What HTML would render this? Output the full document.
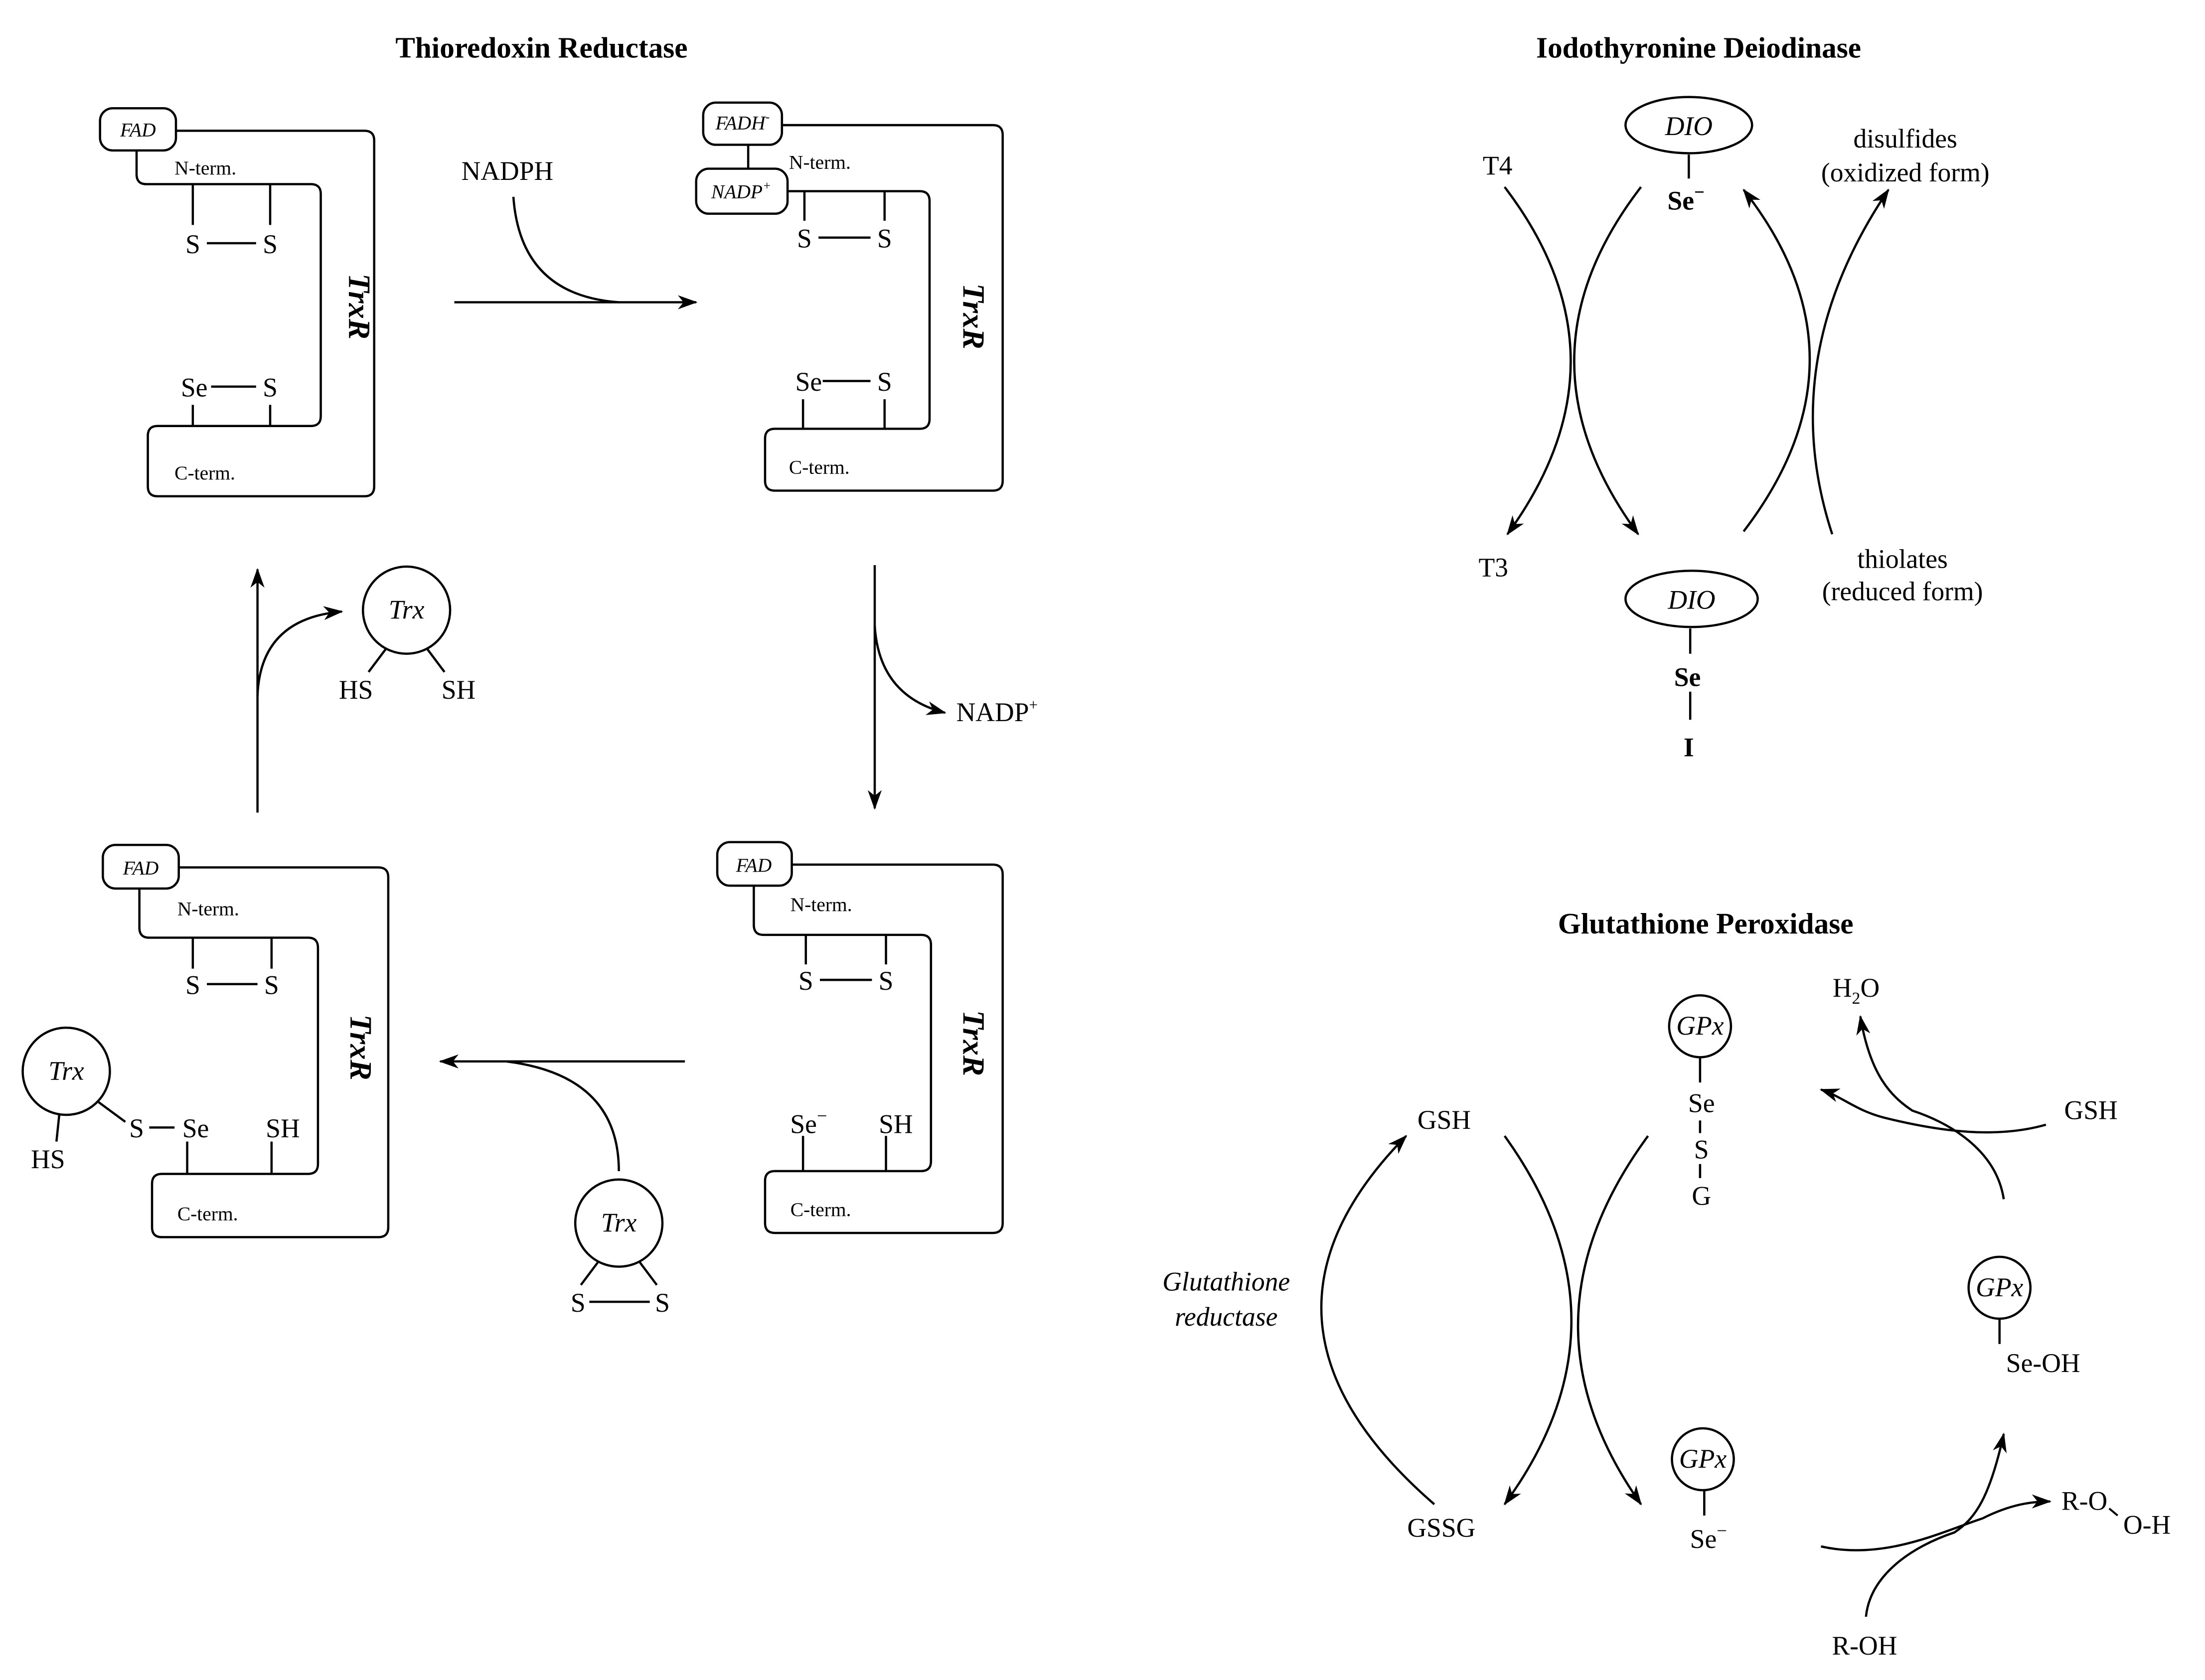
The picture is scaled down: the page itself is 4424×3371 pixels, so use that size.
<!DOCTYPE html>
<html><head><meta charset="utf-8"><style>
html,body{margin:0;padding:0;background:#fff;}
svg{display:block;}
text{font-family:"Liberation Serif","Times New Roman","DejaVu Serif",serif;fill:#000;}
.s{font-size:19px;}
.sm{font-size:14px;}
.it{font-style:italic;}
.b{font-weight:bold;}
.t{font-size:21px;font-weight:bold;}
.tr{font-size:22px;font-weight:bold;font-style:italic;}
</style></head><body>
<svg width="4424" height="3371" viewBox="0 0 1568 1195" xmlns="http://www.w3.org/2000/svg" font-family="Liberation Serif, Times New Roman, serif">
<defs>
<marker id="a" viewBox="0 0 14 10" refX="13" refY="5" markerWidth="14" markerHeight="10" markerUnits="userSpaceOnUse" orient="auto">
<path d="M0,0 L14,5 L0,10 L4,5 Z" fill="#000"/>
</marker>
</defs>
<g fill="none" stroke="#000" stroke-width="1.6">
<rect x="71" y="77" width="54" height="30" rx="9"/>
<path d="M97,107 V124 Q97,131 104,131 H221 Q228,131 228,138 V296 Q228,303 221,303 H112 Q105,303 105,310 V346 Q105,353 112,353 H259 Q266,353 266,346 V100 Q266,93 259,93 H125"/>
<path d="M137,131 V160 M192,131 V160 M147,173 H182 M150,275 H182 M137,288 V303 M192,288 V303"/>
<rect x="500" y="73" width="56" height="30" rx="9"/>
<rect x="495" y="120" width="65" height="32" rx="9"/>
<path d="M532,103 V120"/>
<path d="M560,136 H654 Q661,136 661,143 V298 Q661,305 654,305 H551 Q544,305 544,312 V342 Q544,349 551,349 H706 Q713,349 713,342 V96 Q713,89 706,89 H556"/>
<path d="M572,136 V157 M629,136 V157 M582,169 H619 M585,271 H619 M571,284 V305 M629,284 V305"/>
<rect x="510" y="599" width="53" height="31" rx="9"/>
<path d="M536,630 V658 Q536,665 543,665 H655 Q662,665 662,672 V826 Q662,833 655,833 H551 Q544,833 544,840 V870 Q544,877 551,877 H706 Q713,877 713,870 V622 Q713,615 706,615 H563"/>
<path d="M573,665 V686 M630,665 V686 M583,697 H620 M571,808 V833 M630,808 V833"/>
<rect x="73" y="601" width="54" height="31" rx="9"/>
<path d="M99,632 V660 Q99,667 106,667 H219 Q226,667 226,674 V828 Q226,835 219,835 H115 Q108,835 108,842 V873 Q108,880 115,880 H269 Q276,880 276,873 V624 Q276,617 269,617 H127"/>
<path d="M137,667 V689 M193,667 V689 M147,700 H183 M133,812 V835 M193,812 V835 M106,802 H124"/>
<circle cx="47" cy="762" r="31"/>
<path d="M42,793 L40,812 M70,784 L89,798"/>
<path d="M323,215 H495" marker-end="url(#a)"/>
<path d="M365,140 Q370,210 440,215"/>
<path d="M622,402 V575" marker-end="url(#a)"/>
<path d="M622,445 Q625,495 672,507" marker-end="url(#a)"/>
<path d="M487,755 H313" marker-end="url(#a)"/>
<path d="M440,833 Q440,765 360,755"/>
<circle cx="440" cy="870" r="31"/>
<path d="M425,898 L413,914 M455,898 L467,914 M419,926 H462"/>
<path d="M183,578 V405" marker-end="url(#a)"/>
<path d="M183,495 Q185,440 243,435" marker-end="url(#a)"/>
<circle cx="289" cy="434" r="31"/>
<path d="M274,462 L262,478 M304,462 L316,478"/>
<ellipse cx="1201" cy="89" rx="45" ry="20"/>
<path d="M1201,110 V127"/>
<path d="M1070,133 Q1163,255 1072,380" marker-end="url(#a)"/>
<path d="M1167,133 Q1073,255 1165,380" marker-end="url(#a)"/>
<path d="M1240,378 Q1334,255 1240,135" marker-end="url(#a)"/>
<path d="M1303,380 Q1262,255 1343,135" marker-end="url(#a)"/>
<ellipse cx="1203" cy="426" rx="47" ry="20"/>
<path d="M1202,447 V465 M1202,492 V512"/>
<circle cx="1209" cy="730" r="22"/>
<path d="M1209,752 V770 M1209,797 V806 M1209,828 V838"/>
<path d="M1020,1070 Q870,940 1000,808" marker-end="url(#a)"/>
<path d="M1070,808 Q1165,940 1070,1070" marker-end="url(#a)"/>
<path d="M1172,808 Q1075,940 1167,1070" marker-end="url(#a)"/>
<circle cx="1211" cy="1038" r="22"/>
<path d="M1212,1060 V1078"/>
<path d="M1455,800 C1420,810 1380,805 1340,795 C1320,790 1310,780 1295,775" marker-end="url(#a)"/>
<path d="M1425,853 C1420,820 1390,800 1360,790 C1345,780 1330,765 1323,723" marker-end="url(#a)"/>
<circle cx="1422" cy="916" r="22"/>
<path d="M1422,938 V956"/>
<path d="M1295,1100 C1340,1110 1380,1090 1410,1080 C1430,1070 1445,1068 1458,1068" marker-end="url(#a)"/>
<path d="M1327,1150 C1330,1120 1360,1100 1390,1090 C1405,1080 1415,1065 1425,1020" marker-end="url(#a)"/>
</g>
<text class="t" x="385" y="41" text-anchor="middle">Thioredoxin Reductase</text>
<text class="t" x="1208" y="41" text-anchor="middle">Iodothyronine Deiodinase</text>
<text class="t" x="1213" y="664" text-anchor="middle">Glutathione Peroxidase</text>

<text class="sm it" x="98" y="97" text-anchor="middle">FAD</text>
<text class="sm" x="124" y="124">N-term.</text>
<text class="sm" x="124" y="341">C-term.</text>
<text class="s" x="137" y="180" text-anchor="middle">S</text>
<text class="s" x="192" y="180" text-anchor="middle">S</text>
<text class="s" x="138" y="282" text-anchor="middle">Se</text>
<text class="s" x="192" y="282" text-anchor="middle">S</text>
<text class="tr" transform="translate(248,218) rotate(90)" text-anchor="middle">TrxR</text>

<text class="sm it" x="528" y="92" text-anchor="middle">FADH<tspan font-size="9" dy="-6">-</tspan></text>
<text class="sm it" x="527" y="141" text-anchor="middle">NADP<tspan font-size="9" dy="-6">+</tspan></text>
<text class="sm" x="561" y="120">N-term.</text>
<text class="sm" x="561" y="337">C-term.</text>
<text class="s" x="572" y="176" text-anchor="middle">S</text>
<text class="s" x="629" y="176" text-anchor="middle">S</text>
<text class="s" x="575" y="278" text-anchor="middle">Se</text>
<text class="s" x="629" y="278" text-anchor="middle">S</text>
<text class="tr" transform="translate(685,225) rotate(90)" text-anchor="middle">TrxR</text>
<text class="s" x="328" y="128">NADPH</text>
<text class="s" x="680" y="513">NADP<tspan font-size="11" dy="-8">+</tspan></text>

<text class="sm it" x="536" y="620" text-anchor="middle">FAD</text>
<text class="sm" x="562" y="648">N-term.</text>
<text class="sm" x="562" y="865">C-term.</text>
<text class="s" x="573" y="704" text-anchor="middle">S</text>
<text class="s" x="630" y="704" text-anchor="middle">S</text>
<text class="s" x="575" y="806" text-anchor="middle">Se<tspan font-size="13" dy="-8">−</tspan></text>
<text class="s" x="637" y="806" text-anchor="middle">SH</text>
<text class="tr" transform="translate(685,742) rotate(90)" text-anchor="middle">TrxR</text>

<text class="sm it" x="100" y="622" text-anchor="middle">FAD</text>
<text class="sm" x="126" y="651">N-term.</text>
<text class="sm" x="126" y="868">C-term.</text>
<text class="s" x="137" y="707" text-anchor="middle">S</text>
<text class="s" x="193" y="707" text-anchor="middle">S</text>
<text class="s" x="97" y="809" text-anchor="middle">S</text>
<text class="s" x="139" y="809" text-anchor="middle">Se</text>
<text class="s" x="201" y="809" text-anchor="middle">SH</text>
<text class="tr" transform="translate(249,745) rotate(90)" text-anchor="middle">TrxR</text>
<text class="s it" x="47" y="768" text-anchor="middle">Trx</text>
<text class="s" x="34" y="831" text-anchor="middle">HS</text>

<text class="s it" x="440" y="876" text-anchor="middle">Trx</text>
<text class="s" x="411" y="933" text-anchor="middle">S</text>
<text class="s" x="471" y="933" text-anchor="middle">S</text>
<text class="s it" x="289" y="440" text-anchor="middle">Trx</text>
<text class="s" x="253" y="497" text-anchor="middle">HS</text>
<text class="s" x="326" y="497" text-anchor="middle">SH</text>

<text class="s it" x="1201" y="96" text-anchor="middle">DIO</text>
<text class="s b" x="1199" y="149" text-anchor="middle">Se<tspan font-size="13" dy="-8">−</tspan></text>
<text class="s" x="1065" y="124" text-anchor="middle">T4</text>
<text class="s" x="1062" y="410" text-anchor="middle">T3</text>
<text class="s" x="1355" y="105" text-anchor="middle">disulfides</text>
<text class="s" x="1355" y="129" text-anchor="middle">(oxidized form)</text>
<text class="s" x="1353" y="404" text-anchor="middle">thiolates</text>
<text class="s" x="1353" y="427" text-anchor="middle">(reduced form)</text>
<text class="s it" x="1203" y="433" text-anchor="middle">DIO</text>
<text class="s b" x="1200" y="488" text-anchor="middle">Se</text>
<text class="s b" x="1201" y="538" text-anchor="middle">I</text>

<text class="s it" x="1209" y="736" text-anchor="middle">GPx</text>
<text class="s" x="1210" y="791" text-anchor="middle">Se</text>
<text class="s" x="1210" y="824" text-anchor="middle">S</text>
<text class="s" x="1210" y="857" text-anchor="middle">G</text>
<text class="s" x="1027" y="803" text-anchor="middle">GSH</text>
<text class="s" x="1025" y="1093" text-anchor="middle">GSSG</text>
<text class="s it" x="872" y="918" text-anchor="middle">Glutathione</text>
<text class="s it" x="872" y="943" text-anchor="middle">reductase</text>
<text class="s it" x="1211" y="1044" text-anchor="middle">GPx</text>
<text class="s" x="1215" y="1101" text-anchor="middle">Se<tspan font-size="13" dy="-8">−</tspan></text>
<text class="s" x="1320" y="709" text-anchor="middle">H<tspan font-size="12" dy="5">2</tspan><tspan dy="-5">O</tspan></text>
<text class="s" x="1487" y="796" text-anchor="middle">GSH</text>
<text class="s it" x="1422" y="922" text-anchor="middle">GPx</text>
<text class="s" x="1453" y="976" text-anchor="middle">Se-OH</text>
<text class="s" x="1326" y="1177" text-anchor="middle">R-OH</text>
<text class="s" x="1466" y="1074">R-O</text>
<text class="s" x="1510" y="1091">O-H</text>
<path d="M1500,1073 L1506,1078" stroke="#000" stroke-width="1.4"/>
</svg>
</body></html>
